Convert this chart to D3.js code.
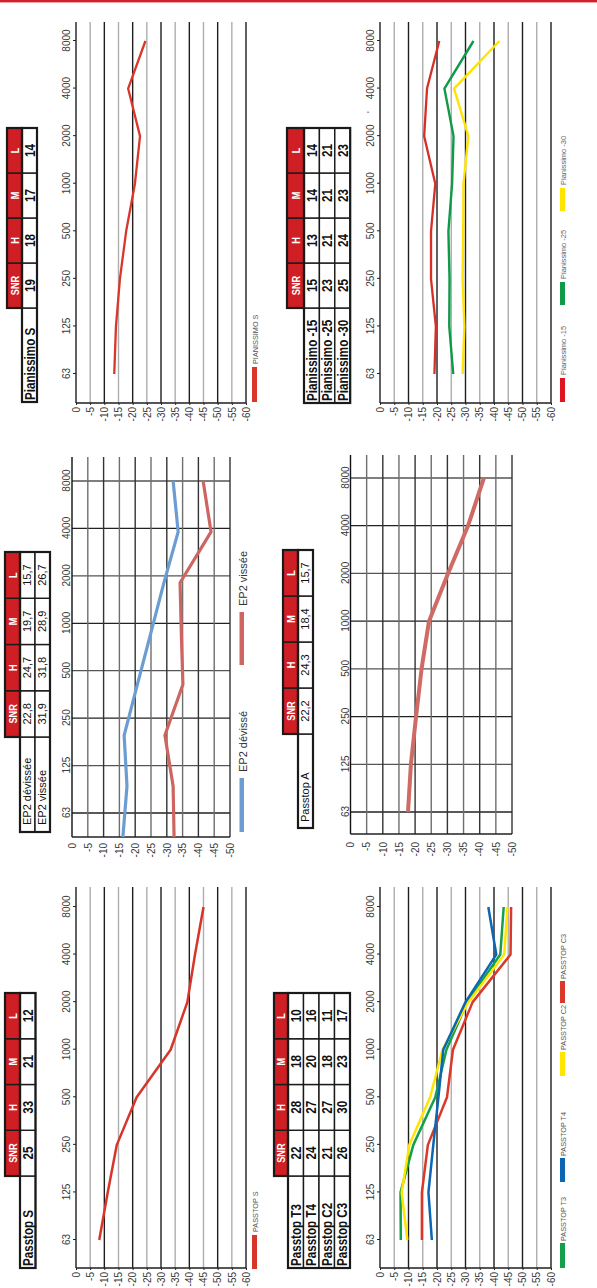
<!DOCTYPE html>
<html><head><meta charset="utf-8">
<script src="https://cdn.jsdelivr.net/npm/d3@7"></script>
<style>body{margin:0;background:#fff}svg{display:block}</style>
</head><body>
<svg id="c" width="597" height="1288"></svg>
<script>
// ---------- data ----------
const freqLabels = ["63","125","250","500","1000","2000","4000","8000"];
const ticks60 = d3.range(0, -61, -5);
const ticks50 = d3.range(0, -51, -5);
const headers = ["SNR","H","M","L"];

const pianissimoS = [-13.5,-14.1,-15.5,-17.7,-20.8,-22.6,-18.4,-24.5];
const passtopS    = [-8.2,-11.2,-14.4,-21.4,-33.4,-39.3,-42,-45];
const ep2Devissee = [-16.1,-17.4,-16.5,-20.7,-24.9,-29.1,-33.6,-32];
const ep2Vissee   = [-32.3,-32,-29.4,-35.1,-34.6,-34.2,-44,-41.5];
const passtopA    = [-17.8,-18.7,-20.3,-22,-24.3,-30.2,-36.4,-41.3];
const pian15 = [-19.1,-19.6,-17.9,-17.9,-19.4,-15.5,-16.5,-20.8];
const pian25 = [-25.7,-24.3,-24.4,-24,-25.3,-25.8,-22.6,-32.8];
const pian30 = [-29,-29.6,-29,-29.2,-29.3,-31,-26,-41.9];
const passtopT3 = [-7.3,-7.2,-11.7,-19.4,-23.3,-30.6,-42.2,-43.4];
const passtopT4 = [-18.2,-17,-18.7,-20.5,-22.2,-30,-40.8,-38];
const passtopC2 = [-9.6,-7.6,-10.3,-17.6,-21.9,-31,-43.6,-44.7];
const passtopC3 = [-14.7,-14.7,-16.8,-23.5,-25.6,-32.5,-45.8,-46];

const tblPianissimoS = [["Pianissimo S","19","18","17","14"]];
const tblEP2 = [["EP2 dévissée","22,8","24,7","19,7","15,7"],["EP2 vissée","31,9","31,8","28,9","26,7"]];
const tblPasstopS = [["Passtop S","25","33","21","12"]];
const tblPian = [["Pianissimo -15","15","13","14","14"],["Pianissimo -25","23","21","21","21"],["Pianissimo -30","25","24","23","23"]];
const tblPasstopA = [["Passtop A","22,2","24,3","18,4","15,7"]];
const tblPasstop = [["Passtop T3","22","28","18","10"],["Passtop T4","24","27","20","16"],["Passtop C2","21","27","18","11"],["Passtop C3","26","30","23","17"]];

// ---------- drawing ----------
const FONT = "'Liberation Sans', Arial, Helvetica, sans-serif";
const RED = "#cf1f25";
const NX = 0.8; // horizontal squeeze emulating a condensed bold face

const svg = d3.select("#c");
svg.append("rect").attr("width",597).attr("height",1288).attr("fill","#fff");
const g = svg.append("g").attr("transform","translate(0,1288) rotate(-90)");

// top red rule
g.append("rect").attr("x",1285.6).attr("y",0).attr("width",2.4).attr("height",597).attr("fill","#d22027");

function styleAxis(sel){
  sel.selectAll("text").attr("font-family",FONT).attr("font-size",10).attr("fill","#3a3a3a");
  sel.selectAll("line").attr("stroke","#222");
  sel.select(".domain").remove();
}

function lightPanel(p){
  const x = d3.scalePoint().domain(freqLabels).range([p.f0,p.f1]);
  const y = d3.scaleLinear().domain([0,-60]).range([p.v0,p.v1]);
  const G = g.append("g");
  G.selectAll("line.grid").data(ticks60).join("line").attr("class","grid")
    .attr("x1",p.u0).attr("x2",p.u1).attr("y1",d=>y(d)).attr("y2",d=>y(d))
    .attr("stroke",d=>d%10===0?"#1e1e1e":"#adadad").attr("stroke-width",1.4);
  G.append("line").attr("x1",p.u0).attr("x2",p.u0).attr("y1",p.v0).attr("y2",p.v1)
    .attr("stroke","#1e1e1e").attr("stroke-width",1.5);
  const ax = G.append("g").attr("transform",`translate(${p.u0},0)`)
    .call(d3.axisLeft(y).tickValues(ticks60).tickFormat(d=>String(d)).tickSize(2).tickPadding(2));
  styleAxis(ax);
  const fx = G.append("g").attr("transform",`translate(0,${p.v0})`)
    .call(d3.axisTop(x).tickSize(3).tickPadding(3));
  styleAxis(fx);
  const line = d3.line().x((d,i)=>x(freqLabels[i])).y(d=>y(d));
  p.series.forEach(s=>{
    G.append("path").datum(s.values).attr("d",line).attr("fill","none")
      .attr("stroke",s.color).attr("stroke-width",s.w).attr("stroke-linejoin","round");
  });
}

function gridPanel(p){
  const x = d3.scalePoint().domain(freqLabels).range([p.f0,p.f1]);
  const y = d3.scaleLinear().domain([0,-50]).range([p.v0,p.v1]);
  const G = g.append("g");
  G.selectAll("line.fl").data(freqLabels).join("line")
    .attr("x1",d=>x(d)).attr("x2",d=>x(d)).attr("y1",p.v0).attr("y2",p.v1)
    .attr("stroke",(d,i)=>i%2?"#555":"#222").attr("stroke-width",1.3);
  G.selectAll("line.vl").data(ticks50).join("line")
    .attr("x1",p.u0).attr("x2",p.u1).attr("y1",d=>y(d)).attr("y2",d=>y(d))
    .attr("stroke",d=>d===0?"#111":(d%10===0?"#333":"#6e6e6e")).attr("stroke-width",1.4);
  G.append("line").attr("x1",p.u0).attr("x2",p.u0).attr("y1",p.v0).attr("y2",p.v1)
    .attr("stroke","#222").attr("stroke-width",1.5);
  const ax = G.append("g").attr("transform",`translate(${p.u0},0)`)
    .call(d3.axisLeft(y).tickValues(ticks50).tickFormat(d=>String(d)).tickSize(0).tickPadding(p.pad));
  styleAxis(ax);
  const fx = G.append("g").attr("transform",`translate(0,${p.v0})`)
    .call(d3.axisTop(x).tickSize(0).tickPadding(2));
  styleAxis(fx);
  const xd = p.dataX || ((d,i)=>x(freqLabels[i]));
  const line = d3.line().x(xd).y(d=>y(d));
  p.series.forEach(s=>{
    G.append("path").datum(s.values).attr("d",line).attr("fill","none")
      .attr("stroke",s.color).attr("stroke-width",s.w).attr("stroke-linejoin","round");
  });
}

function cellText(G, x, y, txt, o){
  const t = G.append("text").attr("dy","0.36em").attr("font-family",FONT)
    .attr("font-weight",o.bold?"bold":"normal").attr("font-size",o.size)
    .attr("fill",o.fill||"#111").attr("text-anchor",o.anchor||"middle").text(txt);
  if (o.squeeze) t.attr("transform",`translate(${x},${y}) scale(${NX},1)`);
  else t.attr("x",x).attr("y",y);
}

function table(t){
  const G = g.append("g");
  const x0 = t.u0 + t.labelW;
  const cx = d3.scaleBand().domain(headers).range([x0, x0+4*t.colW]);
  const ry = d3.scaleBand().domain(d3.range(t.rows.length)).range([t.v0+t.headH, t.v0+t.headH+t.rows.length*t.rowH]);
  const bold = t.bold;
  G.selectAll("rect.h").data(headers).join("rect")
    .attr("x",d=>cx(d)).attr("y",t.v0).attr("width",cx.bandwidth()).attr("height",t.headH)
    .attr("fill",RED).attr("stroke","#1a1a1a").attr("stroke-width",1.4);
  headers.forEach(h=>cellText(G, cx(h)+cx.bandwidth()/2, t.v0+t.headH/2, h, {bold:true,size:11.5,fill:"#fff",squeeze:true}));
  t.rows.forEach((r,j)=>{
    const yy = ry(j);
    G.append("rect").attr("x",t.u0).attr("y",yy).attr("width",t.labelW).attr("height",t.rowH)
      .attr("fill","#fff").attr("stroke","#1a1a1a").attr("stroke-width",1.4);
    cellText(G, t.u0+t.padL, yy+t.rowH/2, r[0], {bold:bold,size:bold?14.5:11,anchor:"start",squeeze:bold});
    headers.forEach((h,k)=>{
      G.append("rect").attr("x",cx(h)).attr("y",yy).attr("width",cx.bandwidth()).attr("height",t.rowH)
        .attr("fill","#fff").attr("stroke","#1a1a1a").attr("stroke-width",1.4);
      cellText(G, cx(h)+cx.bandwidth()/2, yy+t.rowH/2, r[k+1], {bold:bold,size:bold?14.5:11,squeeze:bold});
    });
  });
  G.append("rect").attr("x",x0).attr("y",t.v0).attr("width",4*t.colW).attr("height",t.headH)
    .attr("fill","none").attr("stroke","#1a1a1a").attr("stroke-width",2.2);
  G.append("rect").attr("x",t.u0).attr("y",t.v0+t.headH).attr("width",t.labelW+4*t.colW).attr("height",t.rows.length*t.rowH)
    .attr("fill","none").attr("stroke","#1a1a1a").attr("stroke-width",2.2);
}

function legend(items, v, opt){
  const G = g.append("g");
  items.forEach(it=>{
    G.append("rect").attr("x",it.u).attr("y",v).attr("width",it.len).attr("height",opt.h).attr("fill",it.color);
    G.append("text").attr("x",it.u+it.len+opt.gap).attr("y",v+opt.base)
      .attr("font-family",FONT).attr("font-size",opt.size).attr("fill",opt.fill).text(it.label);
  });
}

// ---------- panels ----------
// Passtop S
lightPanel({u0:20,u1:401,f0:48,f1:381,v0:76,v1:246,
  series:[{values:passtopS,color:"#d8352a",w:2.5}]});
table({u0:20,v0:5,labelW:92,colW:45.75,headH:15,rowH:15.5,rows:tblPasstopS,bold:true,padL:2});
legend([{u:19,len:34,color:"#d8352a",label:"PASSTOP S"}],252,{h:5,gap:3,base:6,size:7.3,fill:"#555"});

// EP2
const ep2x = d3.scalePoint().domain(d3.range(8)).range([451,807]);
gridPanel({u0:451,u1:831,f0:475,f1:807,v0:72,v1:230,pad:6,
  dataX:(d,i)=>ep2x(i),
  series:[{values:ep2Vissee,color:"#cd6561",w:3.2},{values:ep2Devissee,color:"#6b9cd2",w:3.2}]});
table({u0:456,v0:5,labelW:95,colW:46.25,headH:15,rowH:15,rows:tblEP2,bold:false,padL:7});
legend([{u:456,len:54,color:"#6b9cd2",label:"EP2 dévissé"},{u:623,len:53,color:"#cd6561",label:"EP2  vissée"}],239.5,{h:4.5,gap:6,base:7.5,size:11,fill:"#333"});

// Pianissimo S
lightPanel({u0:885,u1:1266,f0:914,f1:1247,v0:76,v1:246,
  series:[{values:pianissimoS,color:"#d8372a",w:2.3}]});
table({u0:886,v0:7,labelW:94,colW:45,headH:15,rowH:15,rows:tblPianissimoS,bold:true,padL:2});
legend([{u:886,len:35,color:"#d8372a",label:"PIANISSIMO S"}],252,{h:5,gap:3,base:6,size:7.3,fill:"#555"});

// Passtop T3/T4/C2/C3
lightPanel({u0:20,u1:401,f0:48,f1:381,v0:380,v1:551,
  series:[{values:passtopT3,color:"#14a04b",w:2.5},{values:passtopC2,color:"#ffe500",w:2.5},
          {values:passtopC3,color:"#d9382b",w:2.5},{values:passtopT4,color:"#0b66b4",w:2.5}]});
table({u0:20,v0:274,labelW:92,colW:45.75,headH:14,rowH:15.5,rows:tblPasstop,bold:true,padL:2});
legend([{u:20,len:25,color:"#14a04b",label:"PASSTOP T3"},{u:106,len:24,color:"#0b66b4",label:"PASSTOP T4"},
        {u:212,len:24,color:"#ffe500",label:"PASSTOP C2"},{u:285,len:22,color:"#d9382b",label:"PASSTOP C3"}],
       560,{h:5,gap:2,base:6,size:7.3,fill:"#555"});

// Passtop A
gridPanel({u0:454,u1:833,f0:476,f1:810,v0:350.5,v1:512,pad:8,
  series:[{values:passtopA,color:"#cf6a65",w:4}]});
table({u0:460,v0:283,labelW:94,colW:46,headH:15,rowH:15,rows:tblPasstopA,bold:false,padL:6});

// Pianissimo -15/-25/-30
lightPanel({u0:885,u1:1266,f0:914,f1:1247,v0:380,v1:551,
  series:[{values:pian15,color:"#d62f26",w:2.3},{values:pian25,color:"#0f9a48",w:2.4},{values:pian30,color:"#ffe400",w:2.4}]});
table({u0:885,v0:287,labelW:95,colW:45,headH:17,rowH:15.4,rows:tblPian,bold:true,padL:2});
legend([{u:886,len:24,color:"#e0141e",label:"Pianissimo -15"},{u:983,len:23,color:"#0f9a48",label:"Pianissimo -25"},
        {u:1077,len:23,color:"#ffe400",label:"Pianissimo -30"}],560,{h:5,gap:3,base:6,size:7.5,fill:"#666"});
g.append("text").attr("x",1175).attr("y",373).attr("font-family",FONT).attr("font-size",9).attr("fill","#444").text("'");
</script>
</body></html>
